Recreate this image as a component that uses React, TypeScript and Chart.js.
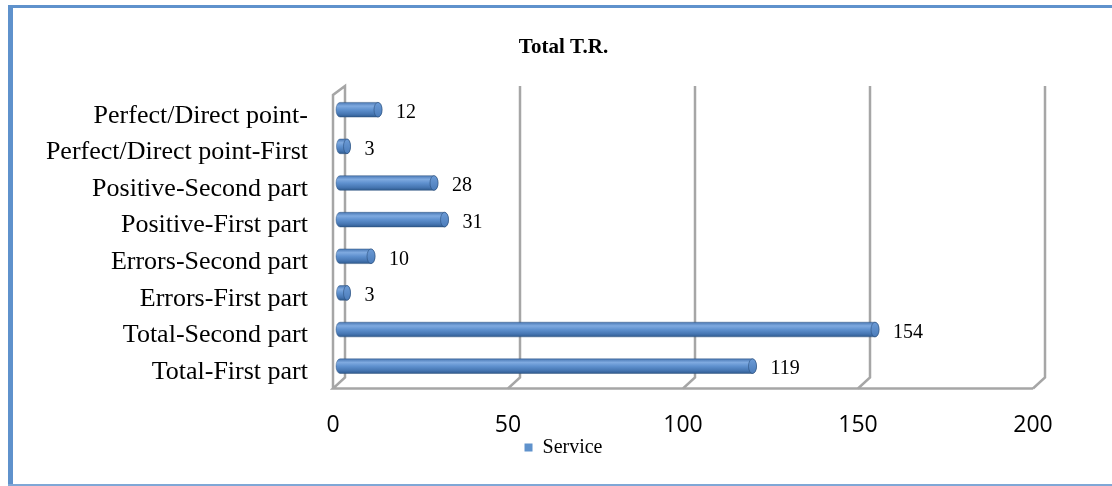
import React, { useEffect, useRef } from "react";
import { Chart, registerables } from "chart.js";

Chart.register(...registerables);

const chartTitle = "Total T.R.";
const seriesName = "Service";
const categories = [
  "Perfect/Direct point-",
  "Perfect/Direct point-First",
  "Positive-Second part",
  "Positive-First part",
  "Errors-Second part",
  "Errors-First part",
  "Total-Second part",
  "Total-First part",
];
const serviceValues = [12, 3, 28, 31, 10, 3, 154, 119];
const xTickValues = [0, 50, 100, 150, 200];

const BLUE = "#5F92CC";
const WALL = "#A6A6A6";

const wallsPlugin = {
  id: "walls3d",
  beforeDatasetsDraw(chart: any) {
    const { ctx, chartArea: ca } = chart;
    const xs = chart.scales.x;
    const backDX = 5;
    const frontDX = -7;
    const backTop = ca.top - 5.5;
    const backBottom = ca.bottom - 7;
    const frontBottom = ca.bottom + 4;
    const frontTop = backTop + 9;
    ctx.save();
    ctx.strokeStyle = WALL;
    ctx.lineWidth = 2.5;
    ctx.lineJoin = "miter";
    const x0 = xs.getPixelForValue(xTickValues[0]);
    const xEnd = xs.getPixelForValue(xTickValues[xTickValues.length - 1]);
    ctx.beginPath();
    ctx.moveTo(x0 + frontDX, frontBottom);
    ctx.lineTo(x0 + frontDX, frontTop);
    ctx.lineTo(x0 + backDX, backTop);
    ctx.lineTo(x0 + backDX, backBottom);
    ctx.lineTo(x0 + frontDX, frontBottom);
    ctx.lineTo(xEnd + frontDX, frontBottom);
    ctx.stroke();
    for (let i = 1; i < xTickValues.length; i++) {
      const xv = xs.getPixelForValue(xTickValues[i]);
      ctx.beginPath();
      ctx.moveTo(xv + backDX, backTop);
      ctx.lineTo(xv + backDX, backBottom);
      ctx.lineTo(xv + frontDX, frontBottom);
      ctx.stroke();
    }
    ctx.restore();
  },
};

const cylinderPlugin = {
  id: "cylinders",
  afterDatasetsDraw(chart: any) {
    const { ctx } = chart;
    const meta = chart.getDatasetMeta(0);
    const ds = chart.data.datasets[0];
    ctx.save();
    meta.data.forEach((bar: any, i: number) => {
      const { x, y, base, height } = bar.getProps(["x", "y", "base", "height"], true);
      const h = height;
      const top = y - h / 2;
      const bottom = y + h / 2;
      const ry = h / 2;
      const rx = Math.min(4, Math.max(2, (x - base) / 3));
      const g = ctx.createLinearGradient(0, top, 0, bottom);
      g.addColorStop(0, "#4A78B4");
      g.addColorStop(0.25, "#7FAAE0");
      g.addColorStop(0.5, "#5F91CF");
      g.addColorStop(0.8, "#4676B2");
      g.addColorStop(1, "#2F5A8E");
      ctx.beginPath();
      ctx.ellipse(base, y, rx, ry, 0, Math.PI / 2, (3 * Math.PI) / 2, false);
      ctx.lineTo(x - rx, top);
      ctx.ellipse(x - rx, y, rx, ry, 0, -Math.PI / 2, Math.PI / 2, false);
      ctx.closePath();
      ctx.fillStyle = g;
      ctx.fill();
      ctx.strokeStyle = "rgba(40,75,120,0.55)";
      ctx.lineWidth = 0.8;
      ctx.stroke();
      const cg = ctx.createLinearGradient(0, top, 0, bottom);
      cg.addColorStop(0, "#6C9BD6");
      cg.addColorStop(1, "#4B7CBA");
      ctx.beginPath();
      ctx.ellipse(x - rx, y, rx, ry, 0, 0, Math.PI * 2);
      ctx.fillStyle = cg;
      ctx.fill();
      ctx.strokeStyle = "rgba(40,75,120,0.7)";
      ctx.lineWidth = 0.8;
      ctx.stroke();
      ctx.fillStyle = "#000";
      ctx.font = "20px 'Liberation Serif', 'Times New Roman', serif";
      ctx.textAlign = "left";
      ctx.textBaseline = "middle";
      ctx.fillText(String(ds.data[i]), x + 14, y + 3);
    });
    ctx.restore();
  },
};

export default function App() {
  const canvasRef = useRef<HTMLCanvasElement | null>(null);

  useEffect(() => {
    const canvas = canvasRef.current;
    if (!canvas) return;
    const chart = new Chart(canvas, {
      type: "bar",
      data: {
        labels: categories,
        datasets: [
          {
            label: seriesName,
            data: serviceValues,
            backgroundColor: "rgba(0,0,0,0)",
            borderWidth: 0,
            barPercentage: 0.4,
            categoryPercentage: 1,
          },
        ],
      },
      options: {
        indexAxis: "y",
        animation: false,
        responsive: false,
        maintainAspectRatio: false,
        layout: { padding: { left: 0, right: -15, top: 0, bottom: 18.5 } },
        plugins: {
          title: {
            display: true,
            text: chartTitle,
            color: "#000",
            font: { family: "'Liberation Serif', 'Times New Roman', serif", size: 21, weight: "bold" },
            padding: { top: 35, bottom: 31.2 },
          },
          legend: {
            display: true,
            position: "bottom",
            labels: {
              color: "#000",
              boxWidth: 8,
              boxHeight: 8,
              padding: 2,
              font: { family: "'Liberation Serif', 'Times New Roman', serif", size: 20 },
              generateLabels: (c: any) => {
                const items = (Chart as any).defaults.plugins.legend.labels.generateLabels(c);
                items.forEach((it: any) => {
                  it.fillStyle = BLUE;
                  it.strokeStyle = BLUE;
                  it.lineWidth = 0;
                });
                return items;
              },
            },
          },
          tooltip: { enabled: false },
        },
        scales: {
          x: {
            type: "linear",
            min: 0,
            max: 220.57,
            afterBuildTicks: (scale: any) => {
              scale.ticks = xTickValues.map((v) => ({ value: v }));
            },
            afterFit: (scale: any) => {
              scale.height = 51;
            },
            grid: { display: false, drawTicks: false },
            border: { display: false },
            ticks: {
              color: "#000",
              padding: 27,
              labelOffset: -7,
              maxRotation: 0,
              font: { family: "'Open Sans', sans-serif", size: 23 },
            },
          },
          y: {
            type: "category",
            afterFit: (scale: any) => {
              scale.width = 340;
            },
            grid: { display: false, drawTicks: false },
            border: { display: false },
            ticks: {
              color: "#000",
              padding: 32,
              labelOffset: 6,
              autoSkip: false,
              font: { family: "'Liberation Serif', 'Times New Roman', serif", size: 26 },
            },
          },
        },
      },
      plugins: [wallsPlugin, cylinderPlugin],
    } as any);
    return () => chart.destroy();
  }, []);

  return (
    <div style={{ position: "fixed", left: 0, top: 0, width: 1112, height: 486, background: "#fff" }}>
      <canvas ref={canvasRef} width={1112} height={486} style={{ position: "absolute", left: 0, top: 0 }} />
      <div style={{ position: "absolute", left: 8, top: 5, width: 1104, height: 3, background: "#5F92CC", pointerEvents: "none" }} />
      <div style={{ position: "absolute", left: 8, top: 5, width: 5, height: 481, background: "#5F92CC", pointerEvents: "none" }} />
      <div style={{ position: "absolute", left: 8, top: 484, width: 1104, height: 2, background: "#7FA7D6", pointerEvents: "none" }} />
    </div>
  );
}
